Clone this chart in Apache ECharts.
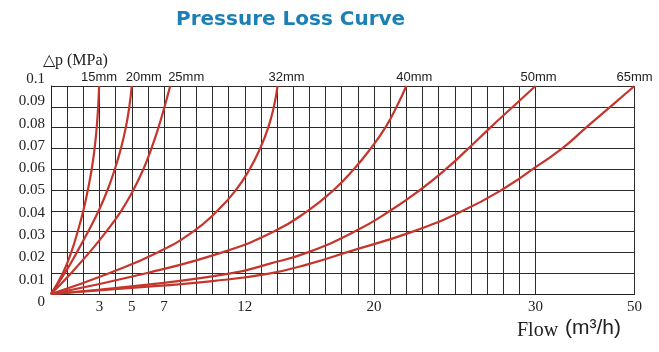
<!DOCTYPE html>
<html>
<head>
<meta charset="utf-8">
<script src="https://cdn.jsdelivr.net/npm/echarts@6/dist/echarts.min.js"></script>
<style>
  html, body { margin: 0; padding: 0; background: #fff; }
  #chart { width: 659px; height: 352px; }
</style>
</head>
<body>
<div id="chart"></div>
<script>
// pipe sizes and their curves as [flow m3/h, pressure loss MPa]
const sizes = ["15mm", "20mm", "25mm", "32mm", "40mm", "50mm", "65mm"];
const curve15 = [[0, 0], [0.73, 0.01], [1.25, 0.02], [1.65, 0.03], [2.0, 0.04], [2.28, 0.05], [2.52, 0.06], [2.7, 0.07], [2.83, 0.08], [2.92, 0.09], [2.98, 0.1]];
const curve20 = [[0, 0], [0.85, 0.01], [1.6, 0.02], [2.3, 0.03], [2.95, 0.04], [3.5, 0.05], [3.95, 0.06], [4.33, 0.07], [4.63, 0.08], [4.85, 0.09], [5.0, 0.1]];
const curve25 = [[0, 0], [1.24, 0.01], [2.38, 0.02], [3.42, 0.03], [4.35, 0.04], [5.1, 0.05], [5.72, 0.06], [6.22, 0.07], [6.65, 0.08], [7.03, 0.09], [7.38, 0.1]];
const curve32 = [[0, 0], [3.6, 0.01], [6.6, 0.02], [8.8, 0.03], [10.3, 0.04], [11.45, 0.05], [12.3, 0.06], [12.95, 0.07], [13.45, 0.08], [13.8, 0.09], [14.03, 0.1]];
const curve40 = [[0, 0], [5.9, 0.01], [10.6, 0.02], [13.8, 0.03], [15.9, 0.04], [17.5, 0.05], [18.75, 0.06], [19.8, 0.07], [20.7, 0.08], [21.4, 0.09], [22.0, 0.1]];
const curve50 = [[0, 0], [6, 0.0045], [11.2, 0.01], [13.5, 0.0145], [15.9, 0.02], [18.8, 0.03], [21.0, 0.04], [22.85, 0.05], [24.45, 0.06], [25.85, 0.07], [27.2, 0.08], [28.6, 0.09], [30, 0.1]];
const curve65 = [[0, 0], [6, 0.0035], [10, 0.0062], [13.5, 0.0098], [16, 0.0145], [18.3, 0.02], [22.4, 0.03], [25.5, 0.04], [27.9, 0.05], [30, 0.061], [35.4, 0.07], [40.2, 0.08], [45.1, 0.09], [50, 0.1]];

const xTickLabels = [3, 5, 7, 12, 20, 30, 50];
const yTickLabels = ["0", "0.01", "0.02", "0.03", "0.04", "0.05", "0.06", "0.07", "0.08", "0.09", "0.1"];

const curves = [curve15, curve20, curve25, curve32, curve40, curve50, curve65];
// horizontal nudge of each size label (the picture puts them a bit right of the curve end)
const labelShift = [0, 12, 16, 9, 8, 3, 0];

const RED = "#c6352c";
const GRID_LINE = "#2b2b2b";
const SERIF = "Liberation Serif";
const SANS = "Liberation Sans";

const chart = echarts.init(document.getElementById("chart"));

// the flow axis is linear up to 30, then 30..50 squeezed: two grids side by side
const makeSeries = (name, pts, axisIndex, withLabel, shift) => ({
  name: name,
  type: "line",
  xAxisIndex: axisIndex,
  yAxisIndex: axisIndex,
  smooth: 0.5,
  symbol: "circle",
  symbolSize: 0,
  showAllSymbol: true,
  lineStyle: { color: RED, width: 2.2 },
  itemStyle: { color: RED },
  label: { show: false },
  silent: true,
  z: 5,
  data: pts.map((p, i) =>
    withLabel && i === pts.length - 1
      ? {
          value: p,
          label: {
            show: true,
            position: "top",
            distance: 2,
            offset: [shift, 0],
            formatter: name,
            fontFamily: SANS,
            fontSize: 13,
            color: "#222",
          },
        }
      : p
  ),
});

const series = [];
curves.forEach((pts, k) => {
  const name = sizes[k];
  const left = pts.filter((p) => p[0] <= 30);
  const right = pts.filter((p) => p[0] >= 30);
  if (right.length > 1) {
    series.push(makeSeries(name, left, 0, false, 0));
    series.push(makeSeries(name, right, 1, true, labelShift[k]));
  } else {
    series.push(makeSeries(name, left, 0, true, labelShift[k]));
  }
});

const option = {
  backgroundColor: "#fff",
  animation: false,
  title: {
    text: "Pressure Loss Curve",
    left: 176,
    top: 10,
    padding: 0,
    textStyle: {
      fontFamily: "DejaVu Sans",
      fontWeight: "bold",
      fontSize: 20,
      color: "#1c7fb6",
    },
  },
  grid: [
    { left: 51, right: 123.5, top: 86, bottom: 58 },
    { left: 535.5, right: 24.5, top: 86, bottom: 58 },
    // only carries the pressure labels, which sit on a slightly wider scale
    { left: 51, right: 123.5, top: 79, bottom: 50 },
  ],
  xAxis: [
    {
      gridIndex: 0,
      type: "value",
      min: 0,
      max: 30,
      interval: 1,
      axisLine: { show: true, lineStyle: { color: "#222", width: 1 } },
      axisTick: { show: false },
      splitLine: { show: true, lineStyle: { color: GRID_LINE, width: 1 } },
      axisLabel: {
        margin: 6,
        fontFamily: SERIF,
        fontSize: 15,
        color: "#222",
        formatter: (v) => (xTickLabels.includes(v) ? String(v) : ""),
      },
    },
    {
      gridIndex: 1,
      type: "value",
      min: 30,
      max: 50,
      interval: 20,
      axisLine: { show: true, lineStyle: { color: "#222", width: 1 } },
      axisTick: { show: false },
      splitLine: { show: true, lineStyle: { color: GRID_LINE, width: 1 } },
      axisLabel: {
        margin: 6,
        fontFamily: SERIF,
        fontSize: 15,
        color: "#222",
        formatter: (v) => (v === 50 ? "50" : ""),
      },
    },
    { gridIndex: 2, type: "value", min: 0, max: 30, show: false },
  ],
  yAxis: [
    {
      gridIndex: 0,
      type: "value",
      min: 0,
      max: 0.1,
      interval: 0.01,
      axisLine: { show: true, lineStyle: { color: "#222", width: 1 } },
      axisTick: { show: false },
      axisLabel: { show: false },
      splitLine: { show: true, lineStyle: { color: GRID_LINE, width: 1 } },
    },
    {
      gridIndex: 1,
      type: "value",
      min: 0,
      max: 0.1,
      interval: 0.01,
      axisLine: { show: false },
      axisTick: { show: false },
      axisLabel: { show: false },
      splitLine: { show: true, lineStyle: { color: GRID_LINE, width: 1 } },
    },
    {
      gridIndex: 2,
      type: "value",
      min: 0,
      max: 0.1,
      interval: 0.01,
      axisLine: { show: false },
      axisTick: { show: false },
      splitLine: { show: false },
      axisLabel: {
        margin: 6,
        fontFamily: SERIF,
        fontSize: 15,
        color: "#222",
        formatter: (v) => yTickLabels[Math.round(v / 0.01)],
      },
    },
  ],
  graphic: [
    {
      type: "text",
      left: 43,
      top: 53,
      style: { text: "△p (MPa)", font: "16px " + SERIF, fill: "#222" },
    },
    {
      type: "text",
      left: 517,
      top: 321,
      style: { text: "Flow", font: "20px " + SERIF, fill: "#222" },
    },
    {
      type: "text",
      left: 565,
      top: 318,
      style: { text: "(m³/h)", font: "21px " + SANS, fill: "#222" },
    },
  ],
  series: series,
};

chart.setOption(option);
</script>
</body>
</html>
